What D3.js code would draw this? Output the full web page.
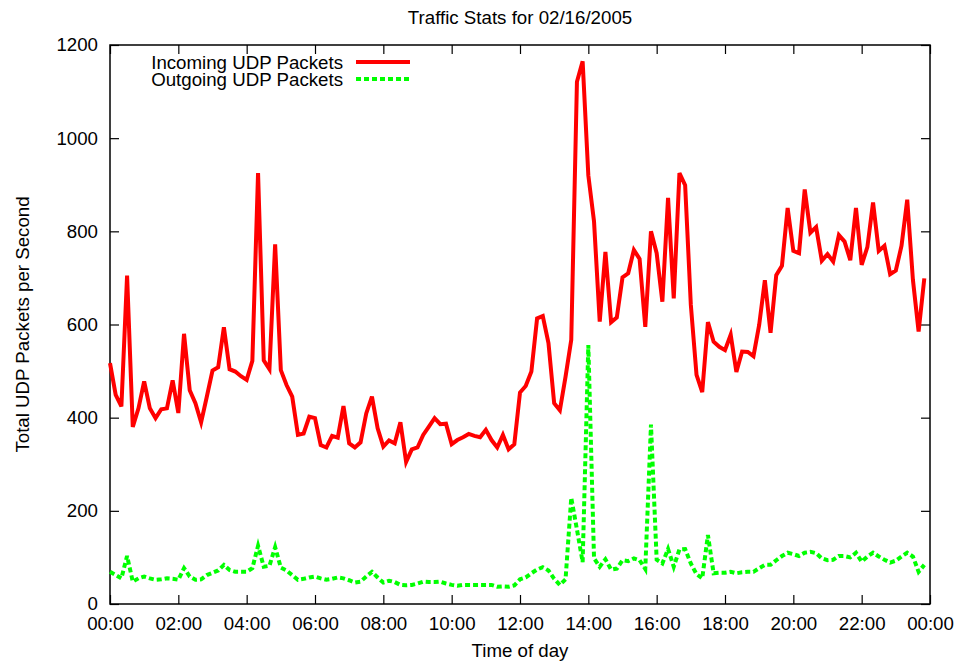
<!DOCTYPE html>
<html>
<head>
<meta charset="utf-8">
<script src="https://cdn.jsdelivr.net/npm/d3@7"></script>
<style>
  body { margin: 0; background: #fff; }
  svg text { font-family: "Liberation Sans", Arial, Helvetica, sans-serif; fill: #000; }
</style>
</head>
<body>
<svg id="chart" width="959" height="664"></svg>
<script>
// Labels
const chartTitle = "Traffic Stats for 02/16/2005";
const xAxisTitle = "Time of day";
const yAxisTitle = "Total UDP Packets per Second";
const seriesNames = ["Incoming UDP Packets", "Outgoing UDP Packets"];

// Sampling: one reading every 10 minutes starting at midnight
const dayStart = Date.UTC(2005, 1, 16);
const sampleMinutes = 10;

// Incoming UDP packets per second
const incoming = [
  517, 449, 424, 705, 380, 420, 478, 420, 399, 418, 420, 480,
  410, 580, 459, 431, 390, 445, 501, 508, 594, 504, 499, 489,
  481, 522, 925, 523, 504, 772, 502, 470, 445, 363, 366, 402,
  399, 341, 336, 361, 357, 425, 345, 336, 347, 409, 445, 377,
  338, 351, 345, 390, 305, 332, 336, 363, 381, 399, 386, 387,
  343, 352, 358, 365, 361, 358, 374, 352, 336, 363, 332, 343,
  454, 468, 499, 613, 618, 560, 431, 416, 488, 567, 1121, 1165,
  920, 821, 606, 756, 605, 615, 701, 710, 760, 741, 595, 800,
  753, 649, 872, 656, 925, 899, 642, 492, 455, 605, 563, 552,
  545, 578, 498, 542, 541, 532, 599, 695, 582, 706, 726, 850,
  758, 753, 890, 797, 809, 737, 751, 735, 792, 778, 738, 850,
  728, 766, 862, 758, 769, 708, 716, 769, 868, 696, 585, 699
];

// Outgoing UDP packets per second
const outgoing = [
  69, 62, 55, 103, 48, 55, 59, 55, 52, 53, 55, 54,
  52, 77, 59, 52, 53, 62, 67, 72, 84, 73, 69, 69,
  69, 77, 125, 80, 82, 122, 78, 72, 62, 52, 54, 57,
  59, 55, 52, 54, 57, 55, 51, 46, 48, 59, 69, 57,
  46, 50, 47, 41, 40, 41, 44, 48, 47, 47, 48, 44,
  41, 39, 41, 41, 41, 41, 41, 41, 37, 38, 37, 40,
  53, 57, 66, 74, 79, 72, 54, 41, 53, 228, 160, 90,
  556, 98, 80, 96, 74, 76, 94, 92, 98, 94, 75, 385,
  95, 87, 118, 80, 117, 118, 87, 64, 55, 148, 66, 67,
  67, 69, 66, 68, 69, 69, 77, 84, 84, 94, 103, 110,
  107, 103, 110, 112, 109, 98, 94, 95, 103, 103, 100, 110,
  91, 102, 110, 102, 95, 89, 93, 102, 110, 102, 69, 84
];

// Axis ticks
const yTickValues = [0, 200, 400, 600, 800, 1000, 1200];
const xTickLabels = ["00:00", "02:00", "04:00", "06:00", "08:00", "10:00", "12:00",
                     "14:00", "16:00", "18:00", "20:00", "22:00", "00:00"];

// Plot box
const plot = { left: 110, right: 930, top: 45, bottom: 604 };
const fontSize = 18.7;

const svg = d3.select("#chart");

const times = incoming.map((_, i) => new Date(dayStart + i * sampleMinutes * 60000));
const xTickDates = xTickLabels.map((_, k) => new Date(dayStart + k * 2 * 3600000));

const x = d3.scaleUtc()
  .domain([new Date(dayStart), new Date(dayStart + 24 * 3600000)])
  .range([plot.left, plot.right]);
const y = d3.scaleLinear().domain([0, 1200]).range([plot.bottom, plot.top]);

const tickLen = 9;
const labelFor = d => xTickLabels[xTickDates.findIndex(t => +t === +d)];

function styleAxis(g, showLabels) {
  g.select(".domain").remove();
  g.selectAll(".tick line").attr("stroke", "#000").attr("stroke-width", 1.2);
  g.selectAll(".tick text").style("font-size", fontSize + "px").attr("fill", "#000");
  if (!showLabels) g.selectAll(".tick text").remove();
}

// Bottom axis with labels
svg.append("g")
  .attr("transform", `translate(0,${plot.bottom})`)
  .call(d3.axisBottom(x).tickValues(xTickDates).tickFormat(labelFor)
    .tickSizeInner(-tickLen).tickSizeOuter(0).tickPadding(13))
  .call(g => styleAxis(g, true));

// Top axis (mirrored ticks)
svg.append("g")
  .attr("transform", `translate(0,${plot.top})`)
  .call(d3.axisTop(x).tickValues(xTickDates).tickSizeInner(-tickLen).tickSizeOuter(0))
  .call(g => styleAxis(g, false));

// Left axis with labels
svg.append("g")
  .attr("transform", `translate(${plot.left},0)`)
  .call(d3.axisLeft(y).tickValues(yTickValues).tickFormat(d3.format("d"))
    .tickSizeInner(-tickLen).tickSizeOuter(0).tickPadding(12))
  .call(g => styleAxis(g, true));

// Right axis (mirrored ticks)
svg.append("g")
  .attr("transform", `translate(${plot.right},0)`)
  .call(d3.axisRight(y).tickValues(yTickValues).tickSizeInner(-tickLen).tickSizeOuter(0))
  .call(g => styleAxis(g, false));

// Plot border
svg.append("rect")
  .attr("x", plot.left).attr("y", plot.top)
  .attr("width", plot.right - plot.left).attr("height", plot.bottom - plot.top)
  .attr("fill", "none").attr("stroke", "#000").attr("stroke-width", 1.5);

// Series lines
const line = d3.line().x((d, i) => x(times[i])).y(d => y(d));

svg.append("path")
  .datum(incoming)
  .attr("d", line)
  .attr("fill", "none")
  .attr("stroke", "#ff0000")
  .attr("stroke-width", 4)
  .attr("stroke-linejoin", "miter");

svg.append("path")
  .datum(outgoing)
  .attr("d", line)
  .attr("fill", "none")
  .attr("stroke", "#00ff00")
  .attr("stroke-width", 4)
  .attr("stroke-dasharray", "5,3")
  .attr("stroke-linejoin", "miter");

// Legend
const legend = svg.append("g");
const legendRows = [
  { name: seriesNames[0], color: "#ff0000", dash: null, y: 62 },
  { name: seriesNames[1], color: "#00ff00", dash: "5,3", y: 79 }
];
legendRows.forEach(r => {
  legend.append("text")
    .attr("x", 343).attr("y", r.y + 7)
    .attr("text-anchor", "end")
    .style("font-size", fontSize + "px")
    .text(r.name);
  legend.append("line")
    .attr("x1", 356).attr("x2", 410)
    .attr("y1", r.y).attr("y2", r.y)
    .attr("stroke", r.color).attr("stroke-width", 4)
    .attr("stroke-dasharray", r.dash);
});

// Titles
svg.append("text")
  .attr("x", (plot.left + plot.right) / 2).attr("y", 24)
  .attr("text-anchor", "middle")
  .style("font-size", fontSize + "px")
  .text(chartTitle);

svg.append("text")
  .attr("x", (plot.left + plot.right) / 2).attr("y", 657)
  .attr("text-anchor", "middle")
  .style("font-size", fontSize + "px")
  .text(xAxisTitle);

svg.append("text")
  .attr("transform", `translate(29,${(plot.top + plot.bottom) / 2}) rotate(-90)`)
  .attr("text-anchor", "middle")
  .style("font-size", fontSize + "px")
  .text(yAxisTitle);
</script>
</body>
</html>
